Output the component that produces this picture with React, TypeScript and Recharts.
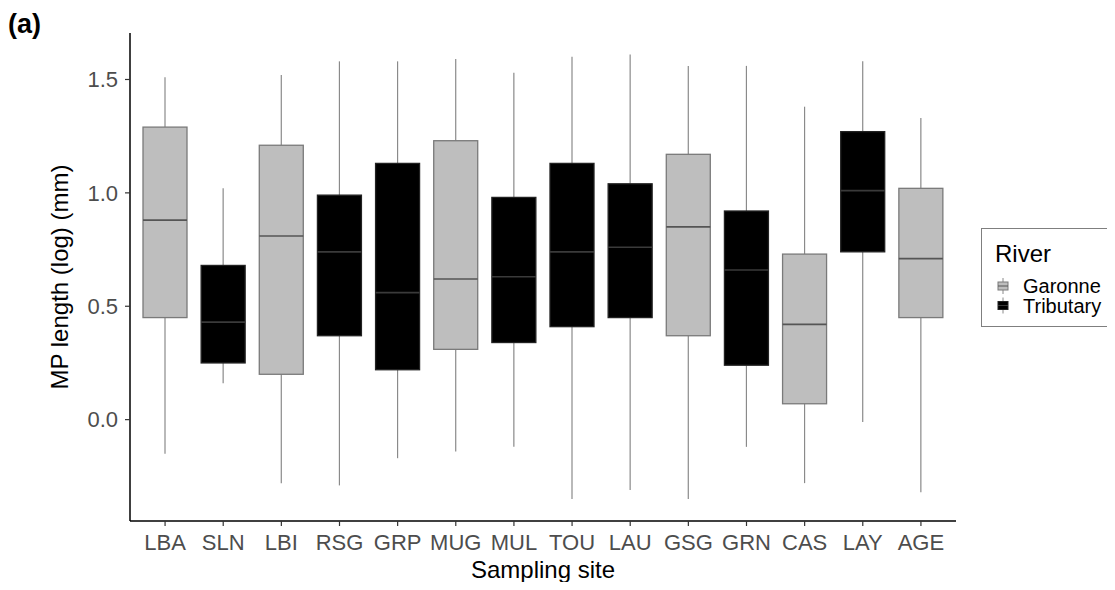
import React from 'react';
import { ComposedChart, Bar, XAxis, YAxis } from 'recharts';

const sites = ['LBA', 'SLN', 'LBI', 'RSG', 'GRP', 'MUG', 'MUL', 'TOU', 'LAU', 'GSG', 'GRN', 'CAS', 'LAY', 'AGE'];
const river = [
  'Garonne', 'Tributary', 'Garonne', 'Tributary', 'Tributary', 'Garonne', 'Tributary',
  'Tributary', 'Tributary', 'Garonne', 'Tributary', 'Garonne', 'Tributary', 'Garonne',
];
const whiskerLow = [-0.15, 0.16, -0.28, -0.29, -0.17, -0.14, -0.12, -0.35, -0.31, -0.35, -0.12, -0.28, -0.01, -0.32];
const q1 = [0.45, 0.25, 0.2, 0.37, 0.22, 0.31, 0.34, 0.41, 0.45, 0.37, 0.24, 0.07, 0.74, 0.45];
const median = [0.88, 0.43, 0.81, 0.74, 0.56, 0.62, 0.63, 0.74, 0.76, 0.85, 0.66, 0.42, 1.01, 0.71];
const q3 = [1.29, 0.68, 1.21, 0.99, 1.13, 1.23, 0.98, 1.13, 1.04, 1.17, 0.92, 0.73, 1.27, 1.02];
const whiskerHigh = [1.51, 1.02, 1.52, 1.58, 1.58, 1.59, 1.53, 1.6, 1.61, 1.56, 1.56, 1.38, 1.58, 1.33];
const yTicks = [0, 0.5, 1.0, 1.5];
const riverTypes = ['Garonne', 'Tributary'];

const fills: Record<string, string> = { Garonne: '#bebebe', Tributary: '#000000' };
const edges: Record<string, string> = { Garonne: '#7a7a7a', Tributary: '#222222' };
const FONT = '"Liberation Sans", Arial, sans-serif';

const data = sites.map((site, i) => ({
  site,
  river: river[i],
  low: whiskerLow[i],
  q1: q1[i],
  median: median[i],
  q3: q3[i],
  high: whiskerHigh[i],
}));

// draws a whole boxplot inside the [low, high] range bar that recharts positions
const BoxShape = (props: any) => {
  const { x, y, width, height, payload } = props;
  const top = Math.min(y, y + height);
  const h = Math.abs(height);
  const { low, high } = payload;
  const py = (v: number) => top + ((high - v) / (high - low)) * h;
  const cx = x + width / 2;
  return (
    <g>
      <line x1={cx} x2={cx} y1={py(high)} y2={py(payload.q3)} stroke="#8a8a8a" strokeWidth={1.2} />
      <line x1={cx} x2={cx} y1={py(payload.q1)} y2={py(low)} stroke="#8a8a8a" strokeWidth={1.2} />
      <rect
        x={x}
        y={py(payload.q3)}
        width={width}
        height={py(payload.q1) - py(payload.q3)}
        fill={fills[payload.river]}
        stroke={edges[payload.river]}
        strokeWidth={1.3}
      />
      <line
        x1={x}
        x2={x + width}
        y1={py(payload.median)}
        y2={py(payload.median)}
        stroke={payload.river === 'Garonne' ? '#555' : '#3a3a3a'}
        strokeWidth={1.6}
      />
    </g>
  );
};

const YTitle = (props: any) => {
  const { viewBox } = props;
  const cy = viewBox.y + viewBox.height / 2;
  return (
    <text transform={`translate(60, ${cy}) rotate(-90)`} textAnchor="middle" fontSize={24} fill="#000" fontFamily={FONT}>
      MP length (log) (mm)
    </text>
  );
};

const XTitle = (props: any) => {
  const { viewBox } = props;
  return (
    <text x={viewBox.x + viewBox.width / 2} y={570} textAnchor="middle" fontSize={24} fill="#000" fontFamily={FONT}>
      Sampling site
    </text>
  );
};

const LegendGlyph = ({ cy, type }: { cy: number; type: string }) => (
  <g>
    <line x1={22} x2={22} y1={cy - 8} y2={cy + 8} stroke="#8a8a8a" strokeWidth={1} />
    <rect x={17} y={cy - 4} width={10} height={8} fill={fills[type]} stroke={edges[type]} strokeWidth={1} />
    <line x1={17} x2={27} y1={cy} y2={cy} stroke={type === 'Garonne' ? '#555' : '#3a3a3a'} strokeWidth={1} />
  </g>
);

export default function App() {
  const tickStyle = { fill: '#4d4d4d', fontSize: 22, fontFamily: FONT };
  return (
    <div style={{ position: 'relative', width: 1107, height: 574, fontFamily: FONT }}>
      <ComposedChart width={1100} height={574} data={data} margin={{ top: 25, right: 152, left: 0, bottom: 0 }}>
        <XAxis
          dataKey="site"
          type="category"
          padding={{ left: 6, right: 6 }}
          height={61}
          tick={tickStyle}
          tickSize={5}
          tickMargin={8}
          axisLine={{ stroke: '#000', strokeWidth: 1.5 }}
          tickLine={{ stroke: '#333', strokeWidth: 1.2 }}
          interval={0}
          label={<XTitle />}
        />
        <YAxis
          type="number"
          domain={[-0.447, 1.705]}
          allowDataOverflow
          ticks={yTicks}
          tickFormatter={(v: number) => v.toFixed(1)}
          width={122}
          tick={tickStyle}
          tickSize={5}
          tickMargin={7}
          axisLine={{ stroke: '#000', strokeWidth: 1.5 }}
          tickLine={{ stroke: '#333', strokeWidth: 1.2 }}
          label={<YTitle />}
        />
        <Bar
          dataKey={(d: any) => [d.low, d.high]}
          barSize={44}
          shape={BoxShape}
          isAnimationActive={false}
        />
      </ComposedChart>
      <svg
        width={1107}
        height={574}
        style={{ position: 'absolute', left: 0, top: 0, pointerEvents: 'none' }}
      >
        <text x={0} y={25} fontSize={27} fontWeight="bold" fill="#000" fontFamily={FONT}>
          (a)
        </text>
        <g transform="translate(973, 220)">
          <rect x={0.5} y={0.5} width={132} height={98} fill="#fff" stroke="#7f7f7f" strokeWidth={1} />
          <text x={14} y={34} fontSize={24} fill="#000" fontFamily={FONT}>
            River
          </text>
          {riverTypes.map((t, i) => (
            <g key={t}>
              <LegendGlyph cy={58 + i * 19.5} type={t} />
              <text x={42} y={65 + i * 20} fontSize={20} fill="#000" fontFamily={FONT}>
                {t}
              </text>
            </g>
          ))}
        </g>
      </svg>
    </div>
  );
}
